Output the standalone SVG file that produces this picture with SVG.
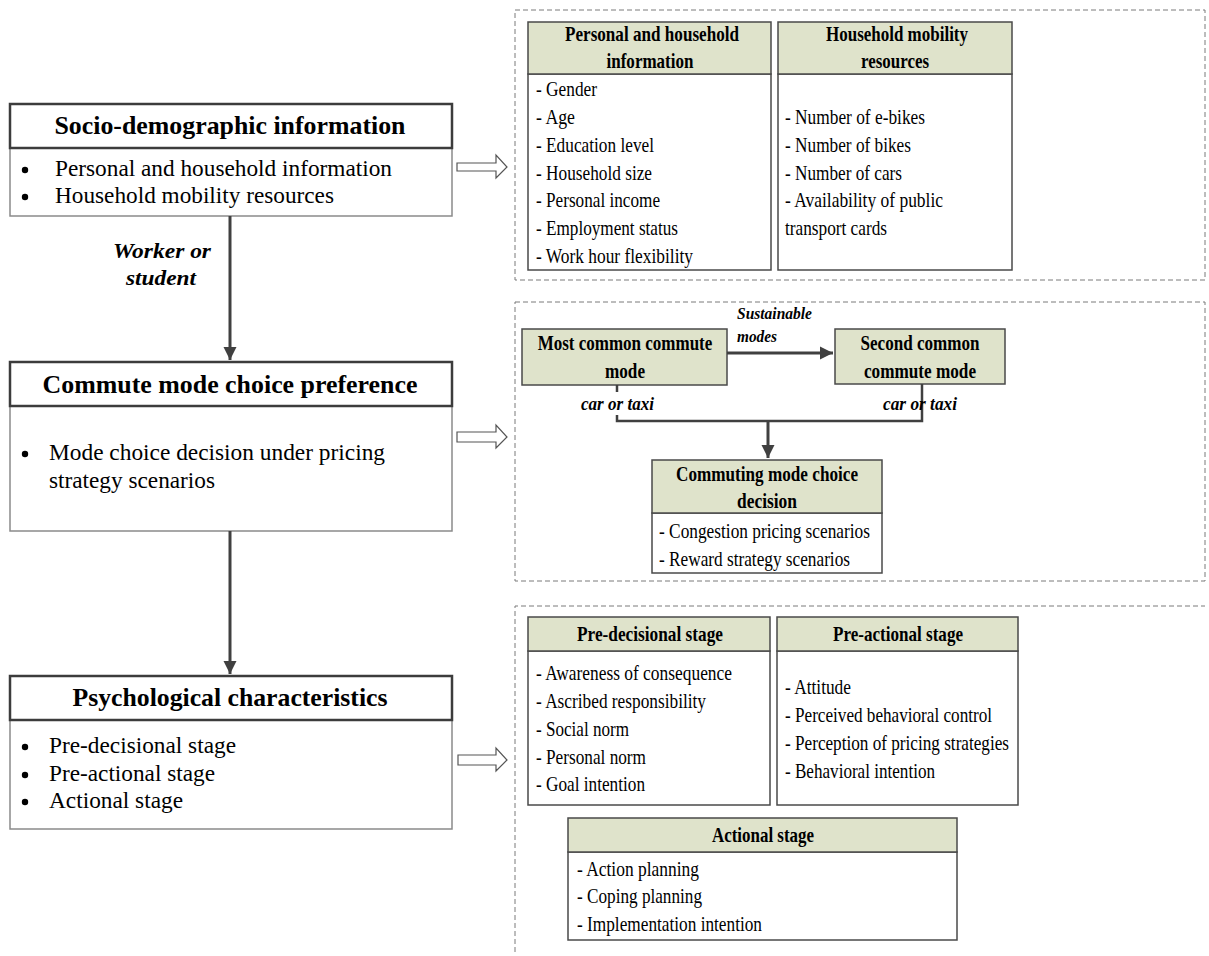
<svg xmlns="http://www.w3.org/2000/svg" width="1209" height="956" viewBox="0 0 1209 956">
<style>
text{font-family:"Liberation Serif","Times New Roman",serif;fill:#000}
.lt{font-size:25px;font-weight:bold;text-anchor:middle}
.lb{font-size:23px}
.rh{font-size:21px;font-weight:bold;text-anchor:middle}
.ri{font-size:21px}
.lab{font-weight:bold;font-style:italic}
.hdr{fill:#ffffff;stroke:#3c3c3c;stroke-width:2.5}
.body{fill:#ffffff;stroke:#8a8a8a;stroke-width:1.5}
.gh{fill:#dfe3cb;stroke:#4a4a4a;stroke-width:1.5}
.gb{fill:#ffffff;stroke:#4a4a4a;stroke-width:1.5}
.dash{fill:none;stroke:#7a7a7a;stroke-width:1;stroke-dasharray:5,3}
.con{fill:none;stroke:#404040;stroke-width:3}
.hol{fill:#ffffff;stroke:#555;stroke-width:1.2}
</style>
<defs>
<marker id="ah" viewBox="0 0 10 10" refX="10" refY="5" markerWidth="4.5" markerHeight="4.5" markerUnits="strokeWidth" orient="auto">
<path d="M0,0 L10,5 L0,10 z" fill="#404040"/>
</marker>
</defs>

<!-- dashed containers -->
<g id="containers">
<rect class="dash" x="515" y="10" width="690" height="270"/>
<rect class="dash" x="515" y="302" width="690" height="279"/>
<path class="dash" d="M515,952 L515,606 L1205,606"/>
</g>

<!-- left nodes -->
<g id="socio">
<rect class="body" x="10" y="148" width="442" height="68"/>
<rect class="hdr" x="10" y="104" width="442" height="44"/>
<text class="lt" x="230" y="134" textLength="351" lengthAdjust="spacingAndGlyphs">Socio-demographic information</text>
<circle cx="25" cy="170" r="3.2"/>
<circle cx="25" cy="197" r="3.2"/>
<text class="lb" x="55" y="176" textLength="337" lengthAdjust="spacingAndGlyphs">Personal and household information</text>
<text class="lb" x="55" y="203" textLength="279" lengthAdjust="spacingAndGlyphs">Household mobility resources</text>
</g>

<g id="commute">
<rect class="body" x="10" y="406" width="442" height="125"/>
<rect class="hdr" x="10" y="362" width="442" height="44"/>
<text class="lt" x="230" y="393" textLength="375" lengthAdjust="spacingAndGlyphs">Commute mode choice preference</text>
<circle cx="25" cy="454" r="3.2"/>
<text class="lb" x="49" y="460" textLength="336" lengthAdjust="spacingAndGlyphs">Mode choice decision under pricing</text>
<text class="lb" x="49" y="488" textLength="166" lengthAdjust="spacingAndGlyphs">strategy scenarios</text>
</g>

<g id="psych">
<rect class="body" x="10" y="720" width="442" height="109"/>
<rect class="hdr" x="10" y="676" width="442" height="44"/>
<text class="lt" x="230" y="706" textLength="315" lengthAdjust="spacingAndGlyphs">Psychological characteristics</text>
<circle cx="25" cy="747" r="3.2"/>
<circle cx="25" cy="775" r="3.2"/>
<circle cx="25" cy="802" r="3.2"/>
<text class="lb" x="49" y="753" textLength="187" lengthAdjust="spacingAndGlyphs">Pre-decisional stage</text>
<text class="lb" x="49" y="781" textLength="166" lengthAdjust="spacingAndGlyphs">Pre-actional stage</text>
<text class="lb" x="49" y="808" textLength="134" lengthAdjust="spacingAndGlyphs">Actional stage</text>
</g>

<!-- right group 1 -->
<g id="personal-info">
<rect class="gb" x="528" y="74" width="243" height="196"/>
<rect class="gh" x="528" y="22" width="243" height="52"/>
<text class="rh" x="652" y="41" textLength="174" lengthAdjust="spacingAndGlyphs">Personal and household</text>
<text class="rh" x="650" y="68" textLength="87" lengthAdjust="spacingAndGlyphs">information</text>
<text class="ri" x="536" y="96" textLength="61" lengthAdjust="spacingAndGlyphs">- Gender</text>
<text class="ri" x="536" y="124" textLength="39" lengthAdjust="spacingAndGlyphs">- Age</text>
<text class="ri" x="536" y="152" textLength="118" lengthAdjust="spacingAndGlyphs">- Education level</text>
<text class="ri" x="536" y="180" textLength="116" lengthAdjust="spacingAndGlyphs">- Household size</text>
<text class="ri" x="536" y="207" textLength="124" lengthAdjust="spacingAndGlyphs">- Personal income</text>
<text class="ri" x="536" y="235" textLength="142" lengthAdjust="spacingAndGlyphs">- Employment status</text>
<text class="ri" x="536" y="263" textLength="157" lengthAdjust="spacingAndGlyphs">- Work hour flexibility</text>
</g>

<g id="mobility-resources">
<rect class="gb" x="778" y="74" width="234" height="196"/>
<rect class="gh" x="778" y="22" width="234" height="52"/>
<text class="rh" x="897" y="41" textLength="142" lengthAdjust="spacingAndGlyphs">Household mobility</text>
<text class="rh" x="895" y="68" textLength="68" lengthAdjust="spacingAndGlyphs">resources</text>
<text class="ri" x="785" y="124" textLength="140" lengthAdjust="spacingAndGlyphs">- Number of e-bikes</text>
<text class="ri" x="785" y="152" textLength="126" lengthAdjust="spacingAndGlyphs">- Number of bikes</text>
<text class="ri" x="785" y="180" textLength="117" lengthAdjust="spacingAndGlyphs">- Number of cars</text>
<text class="ri" x="785" y="207" textLength="158" lengthAdjust="spacingAndGlyphs">- Availability of public</text>
<text class="ri" x="785" y="235" textLength="102" lengthAdjust="spacingAndGlyphs">transport cards</text>
</g>

<!-- right group 2 -->
<g id="most-common">
<rect class="gh" x="522" y="329" width="205" height="56"/>
<text class="rh" transform="translate(625,350) scale(0.81,1)" x="0" y="0">Most common commute</text>
<text class="rh" x="625" y="378" textLength="40" lengthAdjust="spacingAndGlyphs">mode</text>
</g>

<g id="second-common">
<rect class="gh" x="835" y="329" width="170" height="55"/>
<text class="rh" x="920" y="350" textLength="119" lengthAdjust="spacingAndGlyphs">Second common</text>
<text class="rh" x="920" y="378" textLength="112" lengthAdjust="spacingAndGlyphs">commute mode</text>
</g>

<g id="mode-decision">
<rect class="gb" x="652" y="513" width="230" height="60"/>
<rect class="gh" x="652" y="460" width="230" height="53"/>
<text class="rh" x="767" y="481" textLength="182" lengthAdjust="spacingAndGlyphs">Commuting mode choice</text>
<text class="rh" x="767" y="508" textLength="60" lengthAdjust="spacingAndGlyphs">decision</text>
<text class="ri" x="659" y="538" textLength="211" lengthAdjust="spacingAndGlyphs">- Congestion pricing scenarios</text>
<text class="ri" x="659" y="566" textLength="191" lengthAdjust="spacingAndGlyphs">- Reward strategy scenarios</text>
</g>

<!-- right group 3 -->
<g id="pre-decisional">
<rect class="gb" x="528" y="651" width="242" height="154"/>
<rect class="gh" x="528" y="617" width="242" height="34"/>
<text class="rh" x="650" y="641" textLength="146" lengthAdjust="spacingAndGlyphs">Pre-decisional stage</text>
<text class="ri" x="536" y="680" textLength="196" lengthAdjust="spacingAndGlyphs">- Awareness of consequence</text>
<text class="ri" x="536" y="708" textLength="170" lengthAdjust="spacingAndGlyphs">- Ascribed responsibility</text>
<text class="ri" x="536" y="736" textLength="93" lengthAdjust="spacingAndGlyphs">- Social norm</text>
<text class="ri" x="536" y="764" textLength="110" lengthAdjust="spacingAndGlyphs">- Personal norm</text>
<text class="ri" x="536" y="791" textLength="109" lengthAdjust="spacingAndGlyphs">- Goal intention</text>
</g>

<g id="pre-actional">
<rect class="gb" x="777" y="651" width="241" height="154"/>
<rect class="gh" x="777" y="617" width="241" height="34"/>
<text class="rh" x="898" y="641" textLength="130" lengthAdjust="spacingAndGlyphs">Pre-actional stage</text>
<text class="ri" x="785" y="694" textLength="66" lengthAdjust="spacingAndGlyphs">- Attitude</text>
<text class="ri" x="785" y="722" textLength="207" lengthAdjust="spacingAndGlyphs">- Perceived behavioral control</text>
<text class="ri" x="785" y="750" textLength="224" lengthAdjust="spacingAndGlyphs">- Perception of pricing strategies</text>
<text class="ri" x="785" y="778" textLength="150" lengthAdjust="spacingAndGlyphs">- Behavioral intention</text>
</g>

<g id="actional">
<rect class="gb" x="568" y="852" width="389" height="88"/>
<rect class="gh" x="568" y="818" width="389" height="34"/>
<text class="rh" x="763" y="842" textLength="102" lengthAdjust="spacingAndGlyphs">Actional stage</text>
<text class="ri" x="577" y="876" textLength="122" lengthAdjust="spacingAndGlyphs">- Action planning</text>
<text class="ri" x="577" y="903" textLength="125" lengthAdjust="spacingAndGlyphs">- Coping planning</text>
<text class="ri" x="577" y="931" textLength="185" lengthAdjust="spacingAndGlyphs">- Implementation intention</text>
</g>

<!-- connectors -->
<g id="connectors">
<path class="con" d="M230,216 L230,360" marker-end="url(#ah)"/>
<path class="con" d="M230,531 L230,674" marker-end="url(#ah)"/>
<path class="con" d="M727,353 L833,353" marker-end="url(#ah)"/>
<path class="con" d="M617,385 L617,392" style="stroke-width:2.5"/>
<path class="con" d="M617,415 L617,421 L922,421 L922,384" style="stroke-width:2.5"/>
<path class="con" d="M768,421 L768,458" marker-end="url(#ah)"/>
<path class="hol" d="M457,163 L496,163 L496,155 L507,167 L496,178 L496,171 L457,171 z"/>
<path class="hol" d="M457,432 L496,432 L496,425 L507,437 L496,448 L496,442 L457,442 z"/>
<path class="hol" d="M458,755 L496,755 L496,748 L507,760 L496,771 L496,765 L458,765 z"/>
</g>

<g id="labels">
<text class="lab" x="162" y="258" text-anchor="middle" font-size="20" textLength="98" lengthAdjust="spacingAndGlyphs">Worker or</text>
<text class="lab" x="161" y="285" text-anchor="middle" font-size="20" textLength="70" lengthAdjust="spacingAndGlyphs">student</text>
<text class="lab" x="737" y="319" font-size="16" textLength="75" lengthAdjust="spacingAndGlyphs">Sustainable</text>
<text class="lab" x="737" y="342" font-size="16" textLength="40" lengthAdjust="spacingAndGlyphs">modes</text>
<text class="lab" x="581" y="410" font-size="19" textLength="73" lengthAdjust="spacingAndGlyphs">car or taxi</text>
<text class="lab" x="883" y="410" font-size="19" textLength="74" lengthAdjust="spacingAndGlyphs">car or taxi</text>
</g>
</svg>
